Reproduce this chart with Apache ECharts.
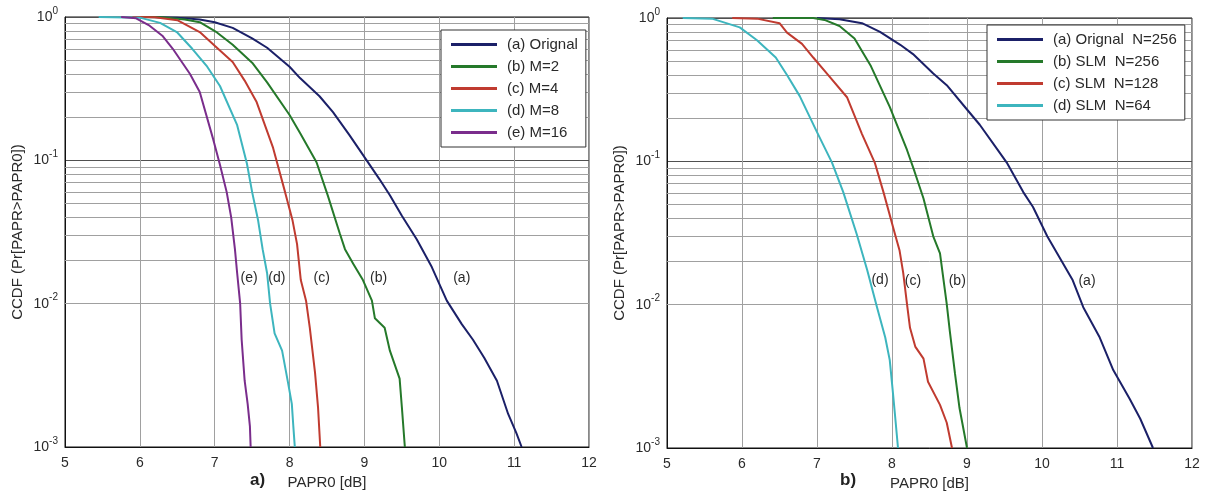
<!DOCTYPE html>
<html><head><meta charset="utf-8">
<script src="https://cdn.jsdelivr.net/npm/echarts@6/dist/echarts.min.js"></script>
<style>html,body{margin:0;padding:0;background:#fff}#c{width:1212px;height:496px}</style>
</head><body><div id="c"></div>
<script>
// ---------- names ----------
const namesLeft = ['(a) Orignal', '(b) M=2', '(c) M=4', '(d) M=8', '(e) M=16'];
const namesRight = ['(a) Orignal  N=256', '(b) SLM  N=256', '(c) SLM  N=128', '(d) SLM  N=64'];
const curveTags = ['(a)', '(b)', '(c)', '(d)', '(e)'];
const colors = ['#1b2068', '#25792a', '#c03b30', '#3db5be', '#7a2d8c'];

// ---------- left panel (a) data: [PAPR0 dB, CCDF] ----------
const leftA = [[6.1,1],[6.5,0.99],[6.8,0.96],[7.0,0.92],[7.24,0.84],[7.5,0.71],[7.7,0.61],[8.0,0.45],[8.14,0.375],[8.4,0.28],[8.58,0.217],[8.8,0.15],[9.03,0.1],[9.2,0.074],[9.34,0.057],[9.5,0.041],[9.7,0.028],[9.9,0.018],[10.1,0.0105],[10.3,0.0072],[10.45,0.0056],[10.6,0.0042],[10.77,0.0029],[10.92,0.0017],[11.03,0.00125],[11.1,0.001]];
const leftB = [[6.0,1],[6.3,0.995],[6.6,0.96],[6.8,0.92],[7.03,0.78],[7.24,0.64],[7.5,0.48],[7.7,0.35],[8.0,0.207],[8.14,0.155],[8.36,0.097],[8.51,0.057],[8.67,0.031],[8.74,0.024],[8.85,0.019],[8.98,0.0146],[9.1,0.0105],[9.14,0.0079],[9.27,0.0068],[9.34,0.0047],[9.47,0.003],[9.5,0.0019],[9.54,0.001]];
const leftC = [[5.9,1],[6.2,0.995],[6.5,0.95],[6.8,0.785],[7.0,0.63],[7.24,0.485],[7.4,0.36],[7.56,0.255],[7.78,0.122],[7.94,0.06],[8.04,0.038],[8.10,0.026],[8.15,0.0146],[8.22,0.0105],[8.27,0.0068],[8.34,0.0033],[8.38,0.0019],[8.41,0.001]];
const leftD = [[5.45,1],[6.0,0.99],[6.27,0.91],[6.5,0.78],[6.7,0.6],[6.9,0.45],[7.07,0.33],[7.3,0.176],[7.43,0.095],[7.5,0.06],[7.58,0.038],[7.64,0.024],[7.70,0.0163],[7.74,0.01],[7.80,0.0062],[7.90,0.0047],[7.98,0.0028],[8.03,0.002],[8.05,0.0014],[8.07,0.001]];
const leftE = [[5.75,1],[5.95,0.98],[6.13,0.87],[6.3,0.74],[6.44,0.6],[6.67,0.4],[6.8,0.3],[6.98,0.14],[7.07,0.093],[7.16,0.06],[7.22,0.04],[7.27,0.024],[7.30,0.0163],[7.34,0.01],[7.36,0.0056],[7.40,0.0029],[7.44,0.002],[7.47,0.0014],[7.48,0.001]];

// ---------- right panel (b) data ----------
const rightA = [[7.0,1],[7.3,0.98],[7.6,0.92],[7.84,0.8],[8.11,0.65],[8.28,0.56],[8.55,0.41],[8.73,0.34],[9.0,0.23],[9.17,0.18],[9.44,0.114],[9.53,0.098],[9.75,0.061],[9.88,0.048],[10.07,0.03],[10.41,0.0148],[10.55,0.0096],[10.77,0.0059],[10.95,0.0035],[11.17,0.0022],[11.31,0.0016],[11.48,0.001]];
const rightB = [[6.41,1],[6.95,1],[7.1,0.97],[7.3,0.88],[7.5,0.72],[7.72,0.46],[7.97,0.24],[8.2,0.12],[8.3,0.085],[8.42,0.055],[8.55,0.03],[8.64,0.0228],[8.73,0.0101],[8.77,0.0066],[8.84,0.0033],[8.9,0.0019],[9.0,0.001]];
const rightC = [[5.87,1],[6.2,0.99],[6.5,0.92],[6.6,0.79],[6.8,0.66],[6.95,0.53],[7.15,0.4],[7.4,0.28],[7.6,0.155],[7.77,0.098],[7.89,0.06],[8.04,0.031],[8.1,0.024],[8.15,0.0166],[8.2,0.0101],[8.24,0.0069],[8.31,0.0051],[8.42,0.0042],[8.48,0.0029],[8.64,0.002],[8.73,0.0015],[8.8,0.001]];
const rightD = [[5.21,1],[5.6,0.99],[5.97,0.86],[6.2,0.7],[6.45,0.53],[6.6,0.4],[6.77,0.285],[7.0,0.16],[7.2,0.098],[7.35,0.061],[7.53,0.031],[7.67,0.0174],[7.80,0.0096],[7.91,0.0059],[7.97,0.0041],[8.01,0.0025],[8.04,0.0017],[8.08,0.001]];

// curve tag label anchor points [x, y]
const tagPosLeft = [[10.30,0.0151],[9.19,0.0151],[8.43,0.0151],[7.83,0.0151],[7.46,0.0151]];
const tagPosRight = [[10.60,0.0145],[8.87,0.0145],[8.28,0.0145],[7.84,0.0148]];

// axis values
const xMin = 5, xMax = 12, xStep = 1;
const yMin = 0.001, yMax = 1;
const minorY = [0.002,0.003,0.004,0.005,0.006,0.007,0.008,0.009,0.02,0.03,0.04,0.05,0.06,0.07,0.08,0.09,0.2,0.3,0.4,0.5,0.6,0.7,0.8,0.9];
const xAxisTitle = 'PAPR0 [dB]';
const yAxisTitle = 'CCDF (Pr[PAPR>PAPR0])';
const panelTags = ['a)', 'b)'];

const FONT = '"Liberation Sans", Arial, sans-serif';
const TXT = '#2a2a2a';

function xAxisCfg(i) {
  return {
    gridIndex: i, type: 'value', min: xMin, max: xMax, interval: xStep,
    name: xAxisTitle, nameLocation: 'middle', nameGap: 25,
    nameTextStyle: { fontSize: 15, color: TXT, fontFamily: FONT },
    axisLine: { show: true, onZero: false, lineStyle: { color: '#111', width: 1 } },
    axisTick: { show: false },
    axisLabel: { fontSize: 14, color: TXT, fontFamily: FONT, margin: 9 },
    splitLine: { show: true, lineStyle: { color: '#a0a0a0', width: 1 } }
  };
}
function yAxisCfg(i) {
  return {
    gridIndex: i, type: 'log', logBase: 10, min: yMin, max: yMax,
    name: yAxisTitle, nameLocation: 'middle', nameGap: 40, nameRotate: 90,
    nameTextStyle: { fontSize: 15, color: TXT, fontFamily: FONT },
    axisLine: { show: true, lineStyle: { color: '#111', width: 1 } },
    axisTick: { show: false },
    axisLabel: {
      margin: 7, color: TXT, fontFamily: FONT,
      formatter: v => '{b|10}{s|' + Math.round(Math.log10(v)) + '}',
      rich: {
        b: { fontSize: 14, lineHeight: 22, color: TXT, fontFamily: FONT },
        s: { fontSize: 10, lineHeight: 12, verticalAlign: 'top', color: TXT, fontFamily: FONT }
      }
    },
    splitLine: { show: true, lineStyle: { color: '#505050', width: 1 } }
  };
}

const seriesList = [];
function addPanel(gi, names, datas, tagPos) {
  datas.forEach((d, k) => {
    const s = {
      name: names[k], type: 'line', xAxisIndex: gi, yAxisIndex: gi,
      data: d, showSymbol: false, symbol: 'none', z: 3,
      lineStyle: { color: colors[k], width: 2 },
      itemStyle: { color: colors[k] },
      markPoint: {
        silent: true, symbol: 'circle', symbolSize: 0, animation: false,
        label: { show: true, position: 'inside', color: TXT, fontSize: 14, fontFamily: FONT, formatter: curveTags[k] },
        data: [{ coord: tagPos[k] }]
      }
    };
    if (k === 0) {
      s.markLine = {
        silent: true, z: 1, symbol: 'none', animation: false,
        label: { show: false },
        lineStyle: { color: '#a0a0a0', width: 1, type: 'solid' },
        emphasis: { disabled: true },
        data: minorY.map(v => ({ yAxis: v }))
      };
    }
    seriesList.push(s);
  });
}
addPanel(0, namesLeft, [leftA, leftB, leftC, leftD, leftE], tagPosLeft);
addPanel(1, namesRight, [rightA, rightB, rightC, rightD], tagPosRight);

function legendCfg(names, left, top) {
  return {
    data: names, orient: 'vertical', left: left, top: top,
    backgroundColor: '#fff', borderColor: '#333', borderWidth: 1,
    padding: [7, 8, 7, 10], itemGap: 7, itemWidth: 46, itemHeight: 3, icon: 'rect',
    textStyle: { fontSize: 15, color: TXT, fontFamily: FONT, lineHeight: 15, padding: [0, 0, 0, 5] },
    selectedMode: false
  };
}

const chart = echarts.init(document.getElementById('c'), null, { renderer: 'canvas' });
chart.setOption({
  animation: false,
  backgroundColor: '#fff',
  grid: [
    { left: 65, top: 17, width: 524, height: 430, show: true, borderColor: '#111', borderWidth: 1, backgroundColor: 'transparent' },
    { left: 667, top: 18, width: 525, height: 430, show: true, borderColor: '#111', borderWidth: 1, backgroundColor: 'transparent' }
  ],
  xAxis: [xAxisCfg(0), xAxisCfg(1)],
  yAxis: [yAxisCfg(0), yAxisCfg(1)],
  legend: [legendCfg(namesLeft, 441, 30), legendCfg(namesRight, 987, 25)],
  graphic: [
    { type: 'text', left: 250, top: 472, style: { text: panelTags[0], font: 'bold 17px ' + FONT, fill: '#222' } },
    { type: 'text', left: 840, top: 472, style: { text: panelTags[1], font: 'bold 17px ' + FONT, fill: '#222' } }
  ],
  series: seriesList
});
</script></body></html>
